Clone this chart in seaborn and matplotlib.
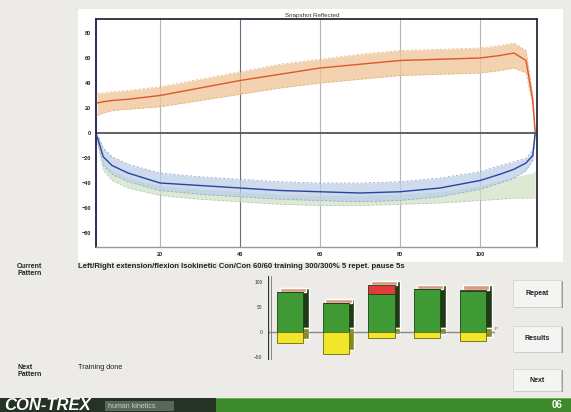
import matplotlib
matplotlib.use("Agg")
import matplotlib.pyplot as plt
from matplotlib.patches import Rectangle
import pandas as pd
import seaborn as sns

# Figure size in pixels (saved at dpi 100)
W, H = 571, 412

# Snapshot curves: torque vs. angle
angle = [4.3, 5.8, 8, 12, 20, 30, 40, 50, 60, 70, 80, 90, 100, 105, 108.5, 111.5, 113.2, 113.8]
ext_mean = [24, 25, 26, 27, 30, 36, 42, 47, 52, 55, 58, 59, 60, 62, 64, 58, 26, 0]
ext_high = [32, 32, 33, 34, 37, 43, 49, 55, 59, 63, 66, 67, 68, 70, 72, 66, 30, 2]
ext_low = [14, 16, 18, 19, 21, 26, 31, 36, 40, 43, 46, 47, 48, 50, 52, 48, 20, 0]
flex_mean = [-3, -19, -26, -32, -40, -42, -44, -46, -47, -48, -47, -44, -38, -33, -29, -24, -18, 0]
flex_high = [-1, -12, -19, -25, -32, -35, -37, -39, -40, -40, -39, -36, -31, -26, -23, -20, -14, 0]
flex_low = [-6, -26, -33, -39, -46, -49, -51, -53, -54, -55, -54, -51, -45, -40, -36, -30, -22, -1]
flex_tint_high = [-4, -22, -30, -36, -42, -45, -47, -49, -50, -50, -49, -47, -42, -38, -35, -33, -32, -30]
flex_tint_low = [-8, -30, -38, -44, -50, -53, -55, -57, -58, -58, -57, -56, -54, -53, -52, -52, -52, -52]

x_ticks = [20, 40, 60, 80, 100]
y_ticks = [80, 60, 40, 20, 0, -20, -40, -60, -80]

# Repetition bars (work per repetition)
reps = ["1", "2", "3", "4", "5"]
work_ok = [80, 58, 76, 86, 82]
work_over = [0, 0, 18, 0, 3]
work_under = [-22, -44, -12, -12, -18]
bar_ticks = [100, 50, 0, -50]

current_pattern = ("Left/Right extension/flexion Isokinetic Con/Con 60/60 "
                   "training 300/300% 5 repet. pause 5s")
next_pattern = "Training done"


def fig_box(fig, x0, y0, x1, y1, **kw):
    """Add a rectangle given in pixel coordinates (top-left origin)."""
    r = Rectangle((x0 / W, 1 - y1 / H), (x1 - x0) / W, (y1 - y0) / H,
                  transform=fig.transFigure, **kw)
    fig.add_artist(r)
    return r


def draw_snapshot(fig):
    ax = fig.add_axes([96 / W, 1 - 247 / H, 441 / W, 228 / H])
    ax.set_facecolor("white")

    # Shaded repetition bands
    ax.fill_between(angle, ext_low, ext_high, color="#f0c494", alpha=0.75, lw=0, zorder=1)
    ax.fill_between(angle, flex_tint_low, flex_tint_high, color="#cfe0c4", alpha=0.7, lw=0, zorder=1)
    ax.fill_between(angle, flex_low, flex_high, color="#b9cde6", alpha=0.7, lw=0, zorder=1)
    for arr, c in [(ext_high, "#d98c55"), (ext_low, "#c9a060"),
                   (flex_high, "#5570b0"), (flex_low, "#6f95a8"),
                   (flex_tint_low, "#8fb49a")]:
        ax.plot(angle, arr, color=c, lw=0.5, ls=(0, (3, 3)), alpha=0.7, zorder=2)

    n = len(angle)
    df = pd.DataFrame({
        "angle": angle * 2,
        "torque": ext_mean + flex_mean,
        "direction": ["Extension"] * n + ["Flexion"] * n,
    })
    sns.lineplot(data=df, x="angle", y="torque", hue="direction", units="direction",
                 estimator=None, sort=False, legend=False, lw=1.0, ax=ax, zorder=3,
                 palette={"Extension": "#e0562b", "Flexion": "#2a43a0"})

    ax.axhline(0, color="#555555", lw=1.3, zorder=2)
    for xt in x_ticks:
        ax.axvline(xt, color="#6a6a80" if xt == 40 else "#b5b5b5", lw=0.8, zorder=0)

    ax.set_xlim(4, 114.25)
    ax.set_ylim(-91.2, 91.2)
    ax.set_xticks(x_ticks)
    ax.set_yticks(y_ticks)
    ax.set_xlabel("")
    ax.set_ylabel("")
    ax.tick_params(labelsize=4, length=2, width=0.8, pad=1.5, colors="#222222")
    for lbl in ax.get_xticklabels() + ax.get_yticklabels():
        lbl.set_fontweight("bold")
    for side in ["top", "right", "left"]:
        ax.spines[side].set_color("#2a2a3a")
        ax.spines[side].set_linewidth(1.3)
    ax.spines["left"].set_color("#1c1c50")
    ax.spines["bottom"].set_color("#9a9a9a")
    ax.spines["bottom"].set_linewidth(1.0)

    ax.text(0.49, 1.005, "Snapshot Reflected", transform=ax.transAxes,
            ha="center", va="bottom", fontsize=4.5, color="#333333",
            bbox=dict(facecolor="white", edgecolor="none", pad=0.3))


def draw_bars(fig):
    ax = fig.add_axes([268 / W, 1 - 360 / H, 227 / W, 84 / H])
    ax.patch.set_alpha(0)
    width, dx, dy = 0.57, 0.12, 9
    pos = range(len(reps))

    # 3D look: dark back faces shifted up/right
    tops = [ok + ov for ok, ov in zip(work_ok, work_over)]
    ax.bar([p + dx for p in pos], tops, bottom=dy, width=width,
           color="#1f3a14", zorder=1)
    ax.bar([p + dx for p in pos], work_under, bottom=dy, width=width,
           color="#8a8a1a", zorder=1)
    ax.bar([p + dx / 2 for p in pos], [dy] * len(reps), bottom=tops, width=width,
           color="#d89a80", zorder=1.5)

    sns.barplot(x=reps, y=work_ok, color="#3f9a35", width=width, saturation=1,
                edgecolor="#20401a", linewidth=0.6, ax=ax, zorder=2)
    ax.bar(pos, work_over, bottom=work_ok, width=width, color="#e23b3b",
           edgecolor="#20401a", linewidth=0.6, zorder=2)
    ax.bar(pos, work_under, width=width, color="#f2e62a",
           edgecolor="#6a6a10", linewidth=0.6, zorder=2)

    ax.axhline(0, color="#8a8a8a", lw=1.0, zorder=1.8)
    ax.set_xlim(-0.48, 4.48)
    ax.set_ylim(-56, 112)
    ax.set_yticks(bar_ticks)
    ax.set_xticks([])
    ax.tick_params(labelsize=3.5, length=0, pad=4, colors="#333333")
    for s in ax.spines.values():
        s.set_visible(False)
    ax.axvline(-0.48, color="#333333", lw=0.9)
    ax.axvline(-0.42, color="#777777", lw=0.6)
    ax.text(4.47, 2, "P", fontsize=3, color="#555555", ha="left", va="bottom")


def draw_frame(fig):
    # White panel behind the snapshot plot
    fig_box(fig, 78, 9, 563, 262, facecolor="white", edgecolor="none", zorder=-5)

    lab = dict(fontsize=5, fontweight="bold", color="#222222", va="top")
    fig.text(17 / W, 1 - 263 / H, "Current\nPattern", linespacing=1.0, **lab)
    fig.text(17 / W, 1 - 364 / H, "Next\nPattern", linespacing=1.0, **lab)
    fig.text(78 / W, 1 - 263 / H, current_pattern, fontsize=5.6, color="#222222",
             va="top", fontweight="bold")
    fig.text(78 / W, 1 - 364 / H, next_pattern, fontsize=5.3, color="#222222", va="top")

    # Buttons on the right
    for label, y0, y1 in [("Repeat", 280, 307), ("Results", 326, 352), ("Next", 369, 391)]:
        fig_box(fig, 515, y0 + 1, 563, y1 + 1, facecolor="#9a9a9a", edgecolor="none")
        fig_box(fig, 513, y0, 561, y1, facecolor="#f4f4f2", edgecolor="#d0d0d0", lw=0.5)
        fig.text(537 / W, 1 - (y0 + y1) / 2 / H, label, fontsize=5, color="#222222",
                 ha="center", va="center", fontweight="bold")

    # Bottom banner
    fig_box(fig, 0, 398, 571, 412, facecolor="#3d8a2d", edgecolor="none")
    fig_box(fig, 0, 398, 571, 399, facecolor="#6fb05a", edgecolor="none")
    fig_box(fig, 0, 398, 216, 412, facecolor="#253226", edgecolor="none")
    fig_box(fig, 105, 401, 174, 411, facecolor="#5a665a", edgecolor="none")
    fig.text(4 / W, 1 - 405.5 / H, "CON-TREX", fontsize=12, fontweight="heavy",
             fontstyle="italic", color="white", va="center")
    fig.text(108 / W, 1 - 406 / H, "human kinetics", fontsize=5, color="#c8d0c8",
             va="center")
    fig.text(563 / W, 1 - 405.5 / H, "06", fontsize=7, color="white",
             ha="right", va="center", fontweight="bold")


def main():
    sns.set_style("white")
    plt.rcParams["font.family"] = ["Liberation Sans", "DejaVu Sans"]
    fig = plt.figure(figsize=(W / 100, H / 100), dpi=100, facecolor="#ecebe7")
    draw_frame(fig)
    draw_snapshot(fig)
    draw_bars(fig)
    fig.savefig("out.png", dpi=100, facecolor=fig.get_facecolor())


if __name__ == "__main__":
    main()
